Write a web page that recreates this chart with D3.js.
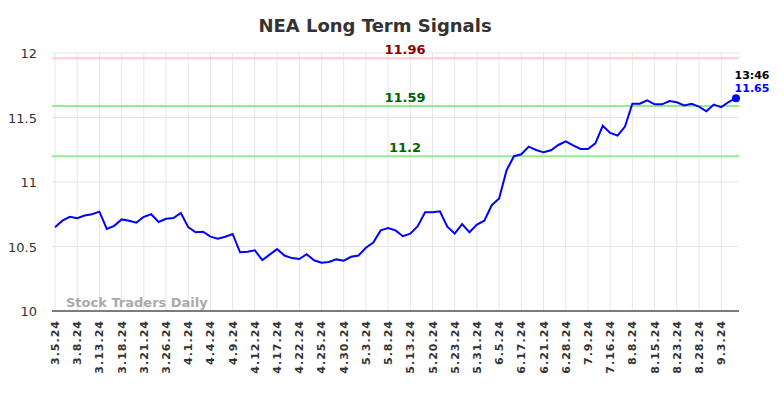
<!DOCTYPE html>
<html>
<head>
<meta charset="utf-8">
<script src="https://cdn.jsdelivr.net/npm/d3@7"></script>
<style>
  body { margin: 0; background: #fff; }
  svg { font-family: "DejaVu Sans", sans-serif; }
</style>
</head>
<body>
<figure id="chart" style="margin:0"></figure>
<script>
// data
var tickLabels = ['3.5.24','3.8.24','3.13.24','3.18.24','3.21.24','3.26.24','4.1.24','4.4.24','4.9.24',
  '4.12.24','4.17.24','4.22.24','4.25.24','4.30.24','5.3.24','5.8.24','5.13.24','5.20.24','5.23.24',
  '5.31.24','6.5.24','6.17.24','6.21.24','6.28.24','7.9.24','7.16.24','8.8.24','8.15.24','8.23.24',
  '8.28.24','9.3.24'];
var prices = [10.65,10.70,10.73,10.72,10.74,10.75,10.77,10.636,10.66,10.71,10.70,10.685,10.73,10.75,10.69,
  10.715,10.72,10.76,10.65,10.61,10.615,10.576,10.56,10.576,10.597,10.455,10.46,10.47,10.395,10.437,
  10.48,10.43,10.41,10.403,10.44,10.393,10.375,10.38,10.40,10.39,10.42,10.43,10.49,10.53,10.625,
  10.643,10.625,10.58,10.60,10.657,10.765,10.765,10.773,10.653,10.60,10.674,10.61,10.67,10.70,10.82,
  10.873,11.09,11.20,11.215,11.274,11.248,11.23,11.246,11.287,11.315,11.284,11.256,11.256,11.30,11.436,
  11.38,11.36,11.43,11.607,11.607,11.633,11.602,11.602,11.628,11.618,11.594,11.607,11.584,11.548,
  11.60,11.58,11.62,11.65];
var signalValues = [11.96, 11.59, 11.2];
var signalKinds = ['resist', 'support', 'support'];
var yTicks = [10, 10.5, 11, 11.5, 12];
var lastTime = '13:46';

var W = 784, H = 398;
var margin = {left: 52, right: 739, top: 53, bottom: 311};

var svg = d3.select('#chart').append('svg')
  .attr('width', W).attr('height', H);

var x = d3.scaleLinear().domain([0, prices.length - 1]).range([55, 736]);
var y = d3.scaleLinear().domain([10, 12]).range([margin.bottom, margin.top]);

// grid
svg.append('g').selectAll('line')
  .data(yTicks).enter().append('line')
  .attr('x1', margin.left).attr('x2', margin.right)
  .attr('y1', function(d) { return y(d); }).attr('y2', function(d) { return y(d); })
  .style('stroke', '#e6e6e6').style('stroke-width', 1);

svg.append('g').selectAll('line')
  .data(tickLabels).enter().append('line')
  .attr('x1', function(d, i) { return x(i * 3); }).attr('x2', function(d, i) { return x(i * 3); })
  .attr('y1', margin.top).attr('y2', margin.bottom)
  .style('stroke', '#e6e6e6').style('stroke-width', 1);

// y labels
svg.append('g').selectAll('text')
  .data(yTicks).enter().append('text')
  .attr('x', 37).attr('y', function(d) { return y(d) + 5; })
  .attr('text-anchor', 'end')
  .style('font-size', '13px').style('fill', '#333')
  .text(function(d) { return d; });

// x labels
svg.append('g').selectAll('text')
  .data(tickLabels).enter().append('text')
  .attr('transform', function(d, i) { return 'translate(' + (x(i * 3) + 4) + ',' + 320 + ') rotate(-90)'; })
  .attr('text-anchor', 'end')
  .style('font-size', '11px').style('font-weight', 'bold').style('fill', '#333')
  .style('letter-spacing', '1px')
  .text(function(d) { return d; });

// x axis line
svg.append('line')
  .attr('x1', margin.left).attr('x2', margin.right).attr('y1', margin.bottom).attr('y2', margin.bottom)
  .style('stroke', '#555').style('stroke-width', 1.3);

// signal lines
svg.append('g').selectAll('line')
  .data(signalValues).enter().append('line')
  .attr('x1', margin.left).attr('x2', margin.right)
  .attr('y1', function(d) { return y(d); }).attr('y2', function(d) { return y(d); })
  .style('stroke', function(d, i) { return signalKinds[i] == 'resist' ? '#ffcccc' : '#90ee90'; })
  .style('stroke-width', 2);

svg.append('g').selectAll('text')
  .data(signalValues).enter().append('text')
  .attr('x', 405).attr('y', function(d) { return y(d) - 4; })
  .attr('text-anchor', 'middle')
  .style('font-size', '13px').style('font-weight', 'bold')
  .style('fill', function(d, i) { return signalKinds[i] == 'resist' ? '#8b0000' : '#006400'; })
  .text(function(d) { return d; });

// watermark
svg.append('text')
  .attr('x', 66).attr('y', 307)
  .style('font-size', '13px').style('font-weight', 'bold').style('fill', '#aaa')
  .text('Stock Traders Daily');

// price line
var line = d3.line()
  .x(function(d, i) { return x(i); })
  .y(function(d) { return y(d); });

svg.append('path')
  .datum(prices)
  .attr('d', line)
  .style('fill', 'none').style('stroke', '#0000ff').style('stroke-width', 2);

var li = prices.length - 1;
svg.append('circle')
  .attr('cx', x(li)).attr('cy', y(prices[li])).attr('r', 4)
  .style('fill', '#0000ff');

svg.append('text')
  .attr('x', x(li) + 16).attr('y', 79)
  .attr('text-anchor', 'middle')
  .style('font-size', '11px').style('font-weight', 'bold').style('fill', '#000')
  .text(lastTime);
svg.append('text')
  .attr('x', x(li) + 16).attr('y', 92)
  .attr('text-anchor', 'middle')
  .style('font-size', '11px').style('font-weight', 'bold').style('fill', '#0000ff')
  .text(prices[li]);

// title
svg.append('text')
  .attr('x', 375).attr('y', 32)
  .attr('text-anchor', 'middle')
  .style('font-size', '18px').style('font-weight', 'bold').style('fill', '#333')
  .text('NEA Long Term Signals');
</script>
</body>
</html>
